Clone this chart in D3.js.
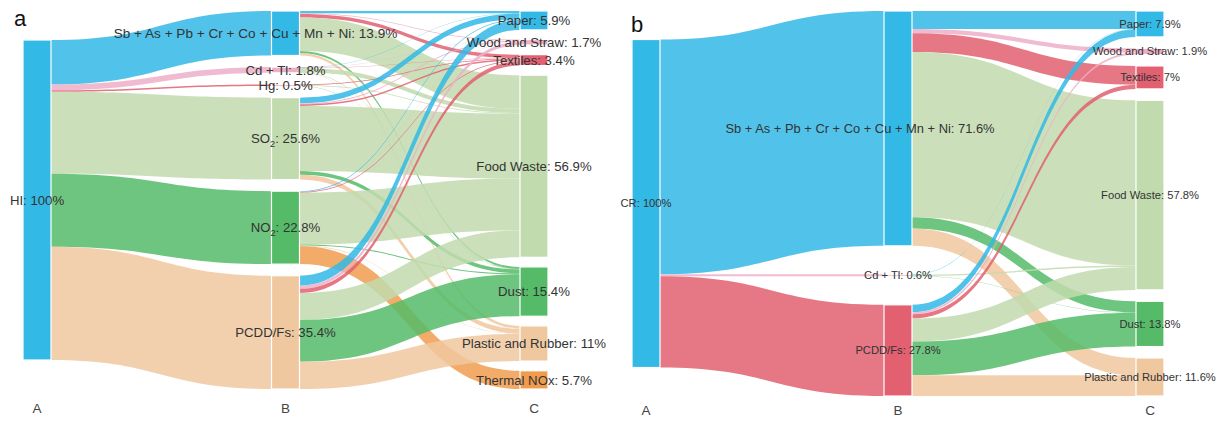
<!DOCTYPE html>
<html>
<head>
<meta charset="utf-8">
<script src="https://cdn.jsdelivr.net/npm/d3@7"></script>
<style>
  body { margin: 0; background: #fff; }
  svg text { font-family: "Liberation Sans", Arial, Helvetica, sans-serif; fill: #333; }
</style>
</head>
<body>
<svg id="chart" width="1223" height="423"></svg>
<script>
// ---- panel a : hazard index ----
const hiSource = ["HI"];
const hiPollutants = ["Sb + As + Pb + Cr + Co + Cu + Mn + Ni", "Cd + Tl", "Hg", "SO2", "NO2", "PCDD/Fs"];
const hiPollutantShare = [13.9, 1.8, 0.5, 25.6, 22.8, 35.4];
const hiWastes = ["Paper", "Wood and Straw", "Textiles", "Food Waste", "Dust", "Plastic and Rubber", "Thermal NOx"];
const hiWasteShare = [5.9, 1.7, 3.4, 56.9, 15.4, 11, 5.7];
// rows = pollutants, cols = wastes
const hiFlows = [
  [0.7, 0.2, 1.1, 10.5, 0.6, 0.8, 0],
  [0.1, 0.1, 0.1, 1.3, 0.1, 0.1, 0],
  [0, 0, 0.2, 0.2, 0.1, 0, 0],
  [1.8, 0.3, 0.5, 20.3, 1.2, 1.5, 0],
  [0.2, 0.1, 0.2, 16.2, 0.3, 0.1, 5.7],
  [3.1, 1.0, 1.3, 8.4, 13.1, 8.5, 0]
];

// ---- panel b : cancer risk ----
const crSource = ["CR"];
const crPollutants = ["Sb + As + Pb + Cr + Co + Cu + Mn + Ni", "Cd + Tl", "PCDD/Fs"];
const crPollutantShare = [71.6, 0.6, 27.8];
const crWastes = ["Paper", "Wood and Straw", "Textiles", "Food Waste", "Dust", "Plastic and Rubber"];
const crWasteShare = [7.9, 1.9, 7, 57.8, 13.8, 11.6];
const crFlows = [
  [5.5, 1.3, 5.7, 50.4, 3.4, 5.3],
  [0.1, 0, 0, 0.4, 0.1, 0],
  [2.3, 0.6, 1.3, 7.0, 10.3, 6.3]
];

const stageNames = ["A", "B", "C"];

// styling
const colours = {
  blue: "#33B9E6", pink: "#EDAFC8", red: "#E26070", lightgreen: "#C2DBAE",
  green: "#55BB68", tan: "#F0C8A0", orange: "#F09C4E"
};
const nodeW = 28;
const linkOpacity = 0.85;

const svg = d3.select("#chart");

const panels = [
  {
    letter: "a", letterX: 14, letterY: 26,
    left: 23, right: 520, top: 11, bottom: 389, full: 320, font: 13.2, stageY: 413,
    cols: [
      { names: hiSource, shares: [100], col: ["blue"] },
      { names: hiPollutants, shares: hiPollutantShare, col: ["blue", "pink", "red", "lightgreen", "green", "tan"] },
      { names: hiWastes, shares: hiWasteShare, col: ["blue", "pink", "red", "lightgreen", "green", "tan", "orange"] }
    ],
    flows: hiFlows,
    tweak: { "Sb + As + Pb + Cr + Co + Cu + Mn + Ni": { dx: -30, size: 13.6 } }
  },
  {
    letter: "b", letterX: 631, letterY: 32,
    left: 632, right: 1136, top: 11, bottom: 396, full: 328, font: 11.2, stageY: 415,
    cols: [
      { names: crSource, shares: [100], col: ["blue"] },
      { names: crPollutants, shares: crPollutantShare, col: ["blue", "pink", "red"] },
      { names: crWastes, shares: crWasteShare, col: ["blue", "pink", "red", "lightgreen", "green", "tan"] }
    ],
    flows: crFlows,
    tweak: { "Sb + As + Pb + Cr + Co + Cu + Mn + Ni": { dx: -38, size: 12.9 } }
  }
];

function drawPanel(p) {
  const g = svg.append("g");
  const x = d3.scaleLinear().domain([0, stageNames.length - 1]).range([p.left, p.right]);
  const h = d3.scaleLinear().domain([0, 100]).range([0, p.full]);

  // nodes, column by column
  const columns = p.cols.map((c, ci) => {
    const hs = c.shares.map(v => h(v));
    const nodes = c.names.map((n, i) => ({ name: n, share: c.shares[i], colour: colours[c.col[i]], x: x(ci), h: hs[i], out: [], inc: [] }));
    if (nodes.length === 1) {
      nodes[0].y = (p.top + p.bottom) / 2 - hs[0] / 2;
    } else {
      const gap = (p.bottom - p.top - d3.sum(hs)) / (nodes.length - 1);
      let y = p.top;
      nodes.forEach(n => { n.y = y; y += n.h + gap; });
    }
    return nodes;
  });

  // links: A -> every B by its share, B -> C by the flow table
  const links = [];
  columns[1].forEach(t => links.push({ s: columns[0][0], t: t, v: t.share }));
  p.flows.forEach((row, i) => row.forEach((v, j) => {
    if (v > 0) links.push({ s: columns[1][i], t: columns[2][j], v: v });
  }));
  links.forEach(l => { l.s.out.push(l); l.t.inc.push(l); });
  columns.flat().forEach(n => {
    let so = n.y;
    n.out.sort((a, b) => a.t.y - b.t.y).forEach(l => { l.sy = so; so += h(l.v); });
    let ti = n.y;
    n.inc.sort((a, b) => a.s.y - b.s.y).forEach(l => { l.ty = ti; ti += h(l.v); });
  });

  const band = l => {
    const x0 = l.s.x + nodeW, x1 = l.t.x, xm = (x0 + x1) / 2, w = h(l.v);
    const path = d3.path();
    path.moveTo(x0, l.sy);
    path.bezierCurveTo(xm, l.sy, xm, l.ty, x1, l.ty);
    path.lineTo(x1, l.ty + w);
    path.bezierCurveTo(xm, l.ty + w, xm, l.sy + w, x0, l.sy + w);
    path.closePath();
    return path.toString();
  };

  g.append("g").selectAll("path")
    .data(links)
    .join("path")
      .attr("d", band)
      .attr("fill", d => d.t.colour)
      .attr("fill-opacity", linkOpacity);

  const allNodes = columns.flat();
  g.append("g").selectAll("rect")
    .data(allNodes)
    .join("rect")
      .attr("x", d => d.x)
      .attr("y", d => d.y)
      .attr("width", nodeW)
      .attr("height", d => Math.max(d.h, 0.5))
      .attr("fill", d => d.colour)
      .attr("stroke", "#fff")
      .attr("stroke-width", 1.2);

  // labels centred on the nodes
  const lbl = g.append("g").selectAll("text")
    .data(allNodes)
    .join("text")
      .attr("x", d => d.x + nodeW / 2 + (p.tweak[d.name] ? p.tweak[d.name].dx : 0))
      .attr("y", d => d.y + d.h / 2)
      .attr("dy", "0.35em")
      .attr("text-anchor", "middle")
      .style("font-size", d => (p.tweak[d.name] ? p.tweak[d.name].size : p.font) + "px");

  lbl.each(function(d) {
    const t = d3.select(this);
    const sub = d.name.match(/^(SO|NO)2$/);
    if (sub) {
      const fs = p.font;
      t.append("tspan").text(sub[1]);
      t.append("tspan").text("2").style("font-size", (fs * 0.7) + "px").attr("dy", fs * 0.3);
      t.append("tspan").text(": " + d.share + "%").attr("dy", -fs * 0.3);
    } else {
      t.text(d.name + ": " + d.share + "%");
    }
  });

  // stage letters under the columns
  g.append("g").selectAll("text")
    .data(stageNames)
    .join("text")
      .attr("x", (d, i) => x(i) + nodeW / 2)
      .attr("y", p.stageY)
      .attr("text-anchor", "middle")
      .style("font-size", "13.5px")
      .style("fill", "#444")
      .text(d => d);

  g.append("text")
    .attr("x", p.letterX)
    .attr("y", p.letterY)
    .style("font-size", "22px")
    .style("fill", "#111")
    .text(p.letter);
}

panels.forEach(drawPanel);
</script>
</body>
</html>
